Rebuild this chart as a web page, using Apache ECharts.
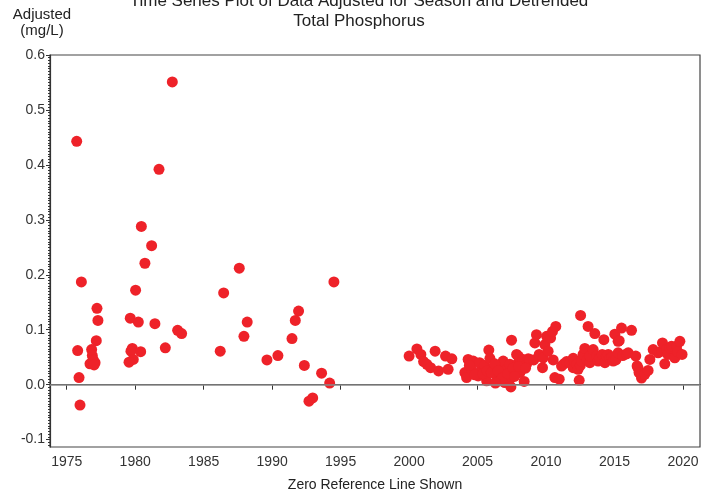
<!DOCTYPE html>
<html>
<head>
<meta charset="utf-8">
<script src="https://cdn.jsdelivr.net/npm/echarts@6/dist/echarts.min.js"></script>
<style>html,body{margin:0;padding:0;background:#fff}#c{width:718px;height:498px}</style>
</head>
<body>
<div id="c"></div>
<script>
// Early record (1975-1995): decimal year and adjusted value (mg/L)
var earlyYears = [1975.73,1976.07,1975.80,1975.90,1975.97,1977.21,1977.28,1977.16,1976.82,1976.87,1976.70,1977.07,1976.94,1977.00,
  1982.71,1981.74,1980.45,1981.20,1980.71,1980.03,1979.64,1980.23,1981.44,1979.79,1979.69,1980.40,1979.86,1979.55,1982.20,1983.10,1983.39,
  1987.60,1986.46,1988.18,1987.94,1986.21,1989.62,1990.42,1991.93,1991.69,1991.45,1992.35,1993.61,1994.20,1992.96,1992.69,1994.51];
var earlyValues = [0.443,0.187,0.062,0.013,-0.037,0.139,0.117,0.080,0.064,0.053,0.038,0.040,0.045,0.036,
  0.551,0.392,0.288,0.253,0.221,0.172,0.121,0.114,0.111,0.066,0.061,0.060,0.046,0.041,0.067,0.099,0.093,
  0.212,0.167,0.114,0.088,0.061,0.045,0.053,0.134,0.117,0.084,0.035,0.021,0.003,-0.024,-0.030,0.187];
// Recent record (2000-2020)
var lateYears = [2000.00,2000.57,2000.86,2001.06,2001.30,2001.57,2002.15,2001.90,2002.66,2003.12,2002.85,
  2004.07,2004.20,2004.31,2004.56,2004.68,2004.40,2005.04,2005.29,2005.15,2005.50,2005.66,2005.82,2005.90,
  2006.14,2006.39,2006.63,2006.63,2006.87,2006.99,2006.99,2007.12,2007.36,2007.36,2007.43,2007.48,2007.85,
  2007.97,2007.97,2008.09,2008.21,2008.33,2008.40,2008.58,2008.70,2008.82,
  2004.80,2005.40,2005.70,2006.00,2006.25,2006.50,2006.80,2007.20,2007.60,2007.70,2008.00,2008.50,2006.30,
  2009.10,2009.18,2009.30,2009.50,2009.74,2009.79,2009.91,2010.04,2010.15,2010.33,2010.47,2010.71,2010.52,
  2010.64,2010.96,2011.13,2011.30,2011.50,2011.74,2011.98,2011.98,2012.10,2012.23,2012.34,2012.42,2012.52,
  2012.50,2012.59,2012.70,2012.83,2013.00,2013.07,2013.20,2013.20,2013.44,2013.56,2013.69,2013.80,2013.90,
  2014.10,2014.22,2014.30,2014.41,2014.54,2014.66,2014.80,2014.90,2015.02,2015.10,2015.26,2015.26,2015.34,
  2015.51,2015.60,2015.87,2016.00,2016.24,2016.55,2016.65,2016.72,2016.79,2016.97,2016.97,2017.21,2017.45,
  2017.58,2017.82,2018.18,2018.43,2018.50,2018.67,2018.80,2018.90,2019.04,2019.16,2019.40,2019.53,2019.60,
  2019.77,2019.93];
var lateValues = [0.052,0.065,0.055,0.042,0.037,0.031,0.025,0.061,0.052,0.047,0.028,
  0.022,0.013,0.046,0.028,0.043,0.035,0.016,0.028,0.040,0.035,0.007,0.063,0.048,
  0.031,0.016,0.007,0.031,0.043,0.004,0.019,0.028,0.037,0.010,-0.004,0.081,0.055,
  0.040,0.052,0.022,0.028,0.046,0.006,0.037,0.047,0.046,
  0.018,0.020,0.025,0.022,0.038,0.025,0.012,0.020,0.030,0.015,0.033,0.030,0.003,
  0.045,0.076,0.091,0.055,0.031,0.049,0.073,0.088,0.061,0.085,0.097,0.106,0.045,
  0.013,0.010,0.034,0.038,0.042,0.040,0.048,0.031,0.042,0.037,0.028,0.008,0.126,
  0.035,0.043,0.055,0.066,0.045,0.106,0.040,0.052,0.064,0.093,0.052,0.043,0.048,
  0.055,0.082,0.040,0.052,0.055,0.048,0.050,0.043,0.092,0.045,0.058,0.079,0.080,
  0.103,0.053,0.056,0.058,0.099,0.052,0.034,0.030,0.022,0.012,0.019,0.019,0.026,
  0.046,0.064,0.058,0.061,0.076,0.038,0.064,0.055,0.067,0.070,0.049,0.070,0.060,
  0.079,0.055];
var xTicks = [1975,1980,1985,1990,1995,2000,2005,2010,2015,2020];
var yTicks = [-0.1,0.0,0.1,0.2,0.3,0.4,0.5,0.6];
var yMinorTicks = [];
for (var k = -22; k <= 120; k++) yMinorTicks.push(+(k * 0.005).toFixed(3));

var pts = [];
earlyYears.forEach(function (x, i) { pts.push([x, earlyValues[i]]); });
lateYears.forEach(function (x, i) { pts.push([x, lateValues[i]]); });

var FONT = '"Liberation Sans", Arial, sans-serif';
var chart = echarts.init(document.getElementById('c'), null, {renderer: 'canvas'});
chart.setOption({
  animation: false,
  backgroundColor: '#ffffff',
  title: [{
    text: 'Time Series Plot of Data Adjusted for Season and Detrended\nTotal Phosphorus',
    left: 'center', top: -9, padding: 0,
    textStyle: {fontFamily: FONT, fontSize: 17, fontWeight: 'normal', color: '#222', lineHeight: 20}
  }, {
    text: 'Adjusted\n(mg/L)',
    left: 42, top: 7, padding: 0, textAlign: 'center',
    textStyle: {fontFamily: FONT, fontSize: 15, fontWeight: 'normal', color: '#222', lineHeight: 16}
  }],
  grid: {left: 50, right: 18, top: 55, bottom: 51, show: true, borderColor: '#444', borderWidth: 1.2, backgroundColor: '#fff'},
  xAxis: {
    type: 'value', min: 1973.78, max: 2021.24,
    splitLine: {show: false},
    axisLine: {show: true, lineStyle: {color: '#333', width: 1.2}},
    axisTick: {show: true, length: 5, customValues: xTicks, lineStyle: {color: '#333'}},
    axisLabel: {customValues: xTicks, margin: 8, fontFamily: FONT, fontSize: 14, color: '#333',
      formatter: function (v) { return String(Math.round(v)); }},
    name: 'Zero Reference Line Shown', nameLocation: 'middle', nameGap: 31,
    nameTextStyle: {fontFamily: FONT, fontSize: 14, color: '#222'}
  },
  yAxis: [{
    type: 'value', min: -0.1134, max: 0.6,
    splitLine: {show: false},
    axisLine: {show: true, lineStyle: {color: '#333', width: 1.2}},
    axisTick: {show: true, length: 4, customValues: yTicks, lineStyle: {color: '#333'}},
    axisLabel: {customValues: yTicks, margin: 5, fontFamily: FONT, fontSize: 14, color: '#333',
      formatter: function (v) { var s = (Math.abs(v) < 1e-9 ? 0 : v).toFixed(1); return s; }}
  }, {
    type: 'value', min: -0.1134, max: 0.6, position: 'left', offset: 0,
    splitLine: {show: false},
    axisLine: {show: false},
    axisTick: {show: true, length: 2, customValues: yMinorTicks, lineStyle: {color: '#333', width: 1}},
    axisLabel: {show: false}
  }],
  series: [{
    type: 'scatter',
    data: pts,
    symbolSize: 11,
    itemStyle: {color: '#ee2229', opacity: 1},
    markLine: {
      silent: true, symbol: 'none', label: {show: false},
      lineStyle: {color: '#8a8a8a', width: 1.5, type: 'solid'},
      data: [{yAxis: 0}]
    },
    z: 3
  }]
});
</script>
</body>
</html>
